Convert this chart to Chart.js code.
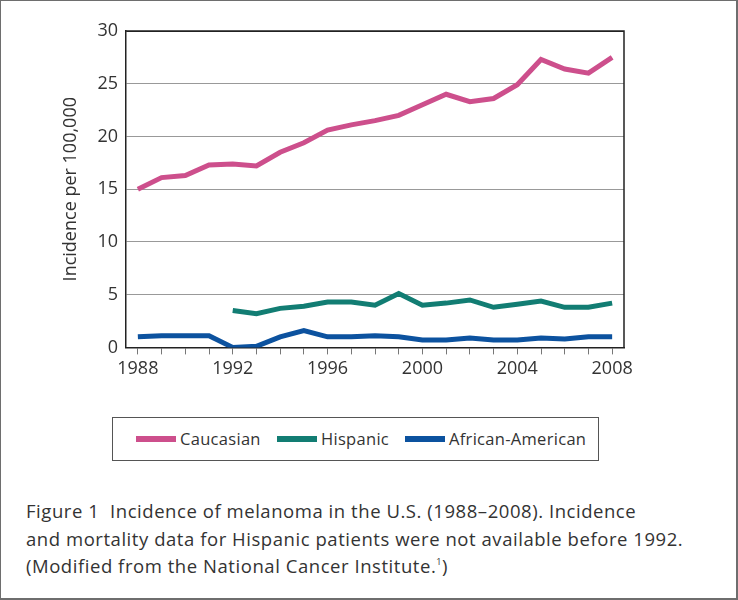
<!DOCTYPE html>
<html>
<head>
<meta charset="utf-8">
<script src="https://cdn.jsdelivr.net/npm/chart.js@4"></script>
<style>
    html, body { margin: 0; padding: 0; background: #fff; }
    #frame {
        position: relative;
        width: 738px;
        height: 600px;
        box-sizing: border-box;
        border: 2px solid #6e6e6e;
        border-top-width: 1px;
        border-left-width: 1px;
        overflow: hidden;
        font-family: "Open Sans", sans-serif;
        color: #333;
    }
    #chartBox {
        position: absolute;
        left: -1px;
        top: -1px;
        width: 738px;
        height: 390px;
    }
    #legend {
        position: absolute;
        left: 111px;
        top: 416px;
        width: 487px;
        height: 44px;
        box-sizing: border-box;
        border: 1.5px solid #555;
        font-size: 16.5px;
        letter-spacing: 0.3px;
        white-space: nowrap;
    }
    .item { position: absolute; top: 0; height: 41px; display: flex; align-items: center; }
    .swatch { width: 40px; height: 6px; margin-right: 4px; }
    #caption {
        position: absolute;
        left: 25px;
        top: 496px;
        font-size: 18.5px;
        letter-spacing: 0.55px;
        line-height: 27.5px;
        color: #333;
        white-space: nowrap;
    }
    #caption sup { font-size: 9px; line-height: 0; vertical-align: 8px; }
</style>
</head>
<body>
<div id="frame">
    <div id="chartBox"><canvas id="graph" width="738" height="390"></canvas></div>
    <div id="legend"></div>
    <div id="caption">
        Figure 1&nbsp; Incidence of melanoma in the U.S. (1988–2008). Incidence<br>
        and mortality data for Hispanic patients were not available before 1992.<br>
        (Modified from the National Cancer Institute.<sup>1</sup>)
    </div>
</div>
<script>
const years = [1988, 1989, 1990, 1991, 1992, 1993, 1994, 1995, 1996, 1997, 1998,
    1999, 2000, 2001, 2002, 2003, 2004, 2005, 2006, 2007, 2008];
const caucasian = [15.0, 16.1, 16.3, 17.3, 17.4, 17.2, 18.5, 19.4, 20.6, 21.1, 21.5,
    22.0, 23.0, 24.0, 23.3, 23.6, 24.9, 27.3, 26.4, 26.0, 27.5];
const hispanic = [null, null, null, null, 3.5, 3.2, 3.7, 3.9, 4.3, 4.3, 4.0,
    5.1, 4.0, 4.2, 4.5, 3.8, 4.1, 4.4, 3.8, 3.8, 4.2];
const africanAmerican = [1.0, 1.1, 1.1, 1.1, 0.0, 0.1, 1.0, 1.6, 1.0, 1.0, 1.1,
    1.0, 0.7, 0.7, 0.9, 0.7, 0.7, 0.9, 0.8, 1.0, 1.0];
const seriesNames = ['Caucasian', 'Hispanic', 'African-American'];
const seriesColors = ['#cd4f8c', '#127d73', '#0c529f'];
const yTicks = [0, 5, 10, 15, 20, 25, 30];
const yTitle = 'Incidence per 100,000';

const fontFamily = '"Open Sans", sans-serif';

// frame on the top and right of the plot area
const plotFrame = {
    id: 'plotFrame',
    afterDatasetsDraw(chart) {
        const a = chart.chartArea;
        const c = chart.ctx;
        c.save();
        c.strokeStyle = '#222';
        c.lineWidth = 1.5;
        c.beginPath();
        c.moveTo(a.left, a.top);
        c.lineTo(a.right, a.top);
        c.lineTo(a.right, a.bottom);
        c.stroke();
        c.restore();
    }
};

document.addEventListener('DOMContentLoaded', () => {
    const ctx = document.getElementById('graph').getContext('2d');
    const values = [caucasian, hispanic, africanAmerican];

    const chart = new Chart(ctx, {
        type: 'line',
        data: {
            labels: years.map(String),
            datasets: values.map((v, i) => ({
                label: seriesNames[i],
                data: v,
                borderColor: seriesColors[i],
                backgroundColor: seriesColors[i],
                borderWidth: 5,
                pointRadius: 0,
                tension: 0,
                spanGaps: false
            })).reverse()
        },
        options: {
            responsive: false,
            animation: false,
            layout: { padding: { left: 0, right: 114, top: 31, bottom: 6 } },
            plugins: {
                legend: { display: false },
                tooltip: { enabled: false }
            },
            scales: {
                x: {
                    offset: true,
                    grid: {
                        display: true,
                        drawOnChartArea: false,
                        drawTicks: true,
                        tickLength: 7,
                        color: '#777',
                        offset: false
                    },
                    border: { color: '#222', width: 1.5 },
                    ticks: {
                        autoSkip: false,
                        maxRotation: 0,
                        padding: 4,
                        color: '#333',
                        font: { family: fontFamily, size: 18 },
                        callback: function (val, idx) {
                            const y = years[idx];
                            return (y - 1988) % 4 === 0 ? String(y) : '';
                        }
                    }
                },
                y: {
                    min: 0,
                    max: 30,
                    afterBuildTicks(scale) {
                        scale.ticks = yTicks.map(v => ({ value: v }));
                    },
                    afterFit(scale) {
                        scale.width = 126;
                    },
                    grid: {
                        color: (c) => c.tick.value === 30 ? '#222' : '#999',
                        lineWidth: 1,
                        drawTicks: false
                    },
                    border: { color: '#222', width: 1.5 },
                    ticks: {
                        padding: 8,
                        color: '#333',
                        font: { family: fontFamily, size: 18 }
                    },
                    title: {
                        display: true,
                        text: yTitle,
                        color: '#333',
                        font: { family: fontFamily, size: 18 },
                        padding: { top: 60, bottom: 0 }
                    }
                }
            }
        },
        plugins: [plotFrame]
    });

    // legend built from the chart's datasets
    const legend = document.getElementById('legend');
    const itemLeft = [23, 164, 292];
    seriesNames.forEach((name, i) => {
        const item = document.createElement('div');
        item.className = 'item';
        item.style.left = itemLeft[i] + 'px';
        const sw = document.createElement('span');
        sw.className = 'swatch';
        sw.style.background = seriesColors[i];
        const txt = document.createElement('span');
        txt.textContent = name;
        item.appendChild(sw);
        item.appendChild(txt);
        legend.appendChild(item);
    });
});
</script>
</body>
</html>
